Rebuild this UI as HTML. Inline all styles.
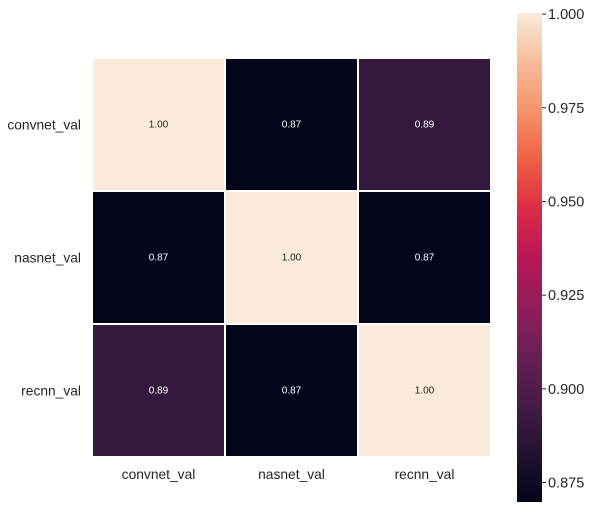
<!DOCTYPE html>
<html><head><meta charset="utf-8"><style>
body{margin:0;background:#fff;}
svg text{font-family:"Liberation Sans",Arial,sans-serif;fill:#262626;}
</style></head><body>
<svg id="chart" width="592" height="515" xmlns="http://www.w3.org/2000/svg">
<defs><linearGradient id="rocket" x1="0" y1="1" x2="0" y2="0"></linearGradient></defs>
<g id="cells"></g><g id="cbar"></g>
</svg>
<script>
const rowLabels=["convnet_val","nasnet_val","recnn_val"];
const colLabels=["convnet_val","nasnet_val","recnn_val"];
const row0=[1.00,0.87,0.89];
const row1=[0.87,1.00,0.87];
const row2=[0.89,0.87,1.00];
const cbTicks=[0.875,0.900,0.925,0.950,0.975,1.000];
const vmin=0.8698, vmax=1.0003;
const stops=["#03051a","#221331","#451c47","#6a1f56","#921c5b","#b91657","#dd2c45","#f06043","#f5936a","#f6bc9a","#faebdd"];
const NS="http://www.w3.org/2000/svg";
function hex(h){return [1,3,5].map(i=>parseInt(h.substr(i,2),16));}
function cmap(v){let t=Math.max(0,Math.min(1,(v-vmin)/(vmax-vmin)))*(stops.length-1);let i=Math.min(stops.length-2,Math.floor(t));let f=t-i;let a=hex(stops[i]),b=hex(stops[i+1]);return "rgb("+a.map((x,k)=>Math.round(x+(b[k]-x)*f)).join(",")+")";}
function mk(tag,attrs,parent){const e=document.createElementNS(NS,tag);for(const k in attrs)e.setAttribute(k,attrs[k]);parent.appendChild(e);return e;}
const X0=92,Y0=58,W=399,H=399,n=3,cw=W/n,ch=H/n;
const xPos=j=>X0+j*cw, yPos=i=>Y0+i*ch;
const cells=document.getElementById('cells');
const rows=[row0,row1,row2];
rows.forEach((r,i)=>r.forEach((v,j)=>{
  const rc=mk('rect',{x:xPos(j),y:yPos(i),width:cw,height:ch,fill:cmap(v),stroke:'#fff','stroke-width':2},cells);
  
  
  const t=mk('text',{x:xPos(j)+cw/2,y:yPos(i)+ch/2+3,'text-anchor':'middle','font-size':10},cells);
  t.style.fill=v>0.95?'#262626':'#ffffff';
  t.textContent=v.toFixed(2);
  
  
}));
rowLabels.forEach((l,i)=>{const t=mk('text',{x:81,y:yPos(i)+ch/2+5,'text-anchor':'end','font-size':13.8},cells);t.textContent=l;

});
colLabels.forEach((l,j)=>{const t=mk('text',{x:xPos(j)+cw/2,y:479,'text-anchor':'middle','font-size':13.8},cells);t.textContent=l;

});
const g=document.getElementById('rocket');
stops.forEach((s,k)=>mk('stop',{offset:k/(stops.length-1),'stop-color':s},g));
const cb=document.getElementById('cbar');
const CX=517,CW=25,CT=13,CB=502;
const cy=v=>CB-(v-vmin)/(vmax-vmin)*(CB-CT);
const bar=mk('rect',{x:CX,y:CT,width:CW,height:CB-CT,fill:'url(#rocket)'},cb);


cbTicks.forEach(v=>{mk('line',{x1:CX+CW,x2:CX+CW+4,y1:cy(v),y2:cy(v),stroke:'#262626','stroke-width':1},cb);
const t=mk('text',{x:CX+CW+6,y:cy(v)+5,'font-size':14.5},cb);t.textContent=v.toFixed(3);

});
</script>
</body></html>
